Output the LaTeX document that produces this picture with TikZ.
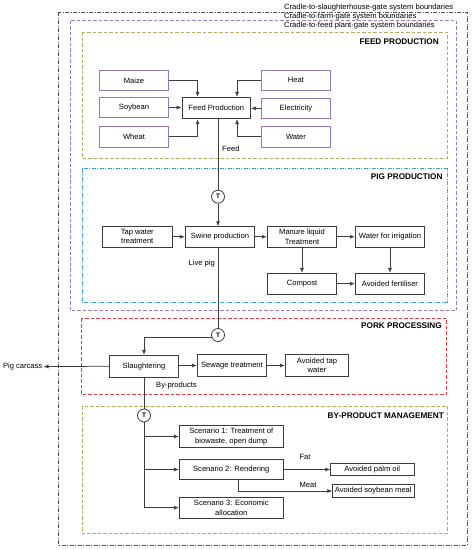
\documentclass[tikz,border=0pt]{standalone}
\usepackage{fontspec}
\setmainfont{Liberation Sans}
\usetikzlibrary{arrows.meta,calc}
\definecolor{pbox}{RGB}{150,120,180}
\definecolor{pdash}{RGB}{160,120,205}
\definecolor{odash}{RGB}{185,170,100}
\definecolor{bdash}{RGB}{70,160,215}
\definecolor{rdash}{RGB}{225,60,75}
\definecolor{odark}{RGB}{80,80,80}
\definecolor{bline}{RGB}{60,60,60}
\tikzset{
  txt/.style={font=\fontsize{7.6}{9.2}\selectfont, inner sep=1pt},
  boxbase/.style={txt, align=center, minimum width=69.4pt, minimum height=20.7pt, inner sep=1pt, line width=0.75pt},
  purplebox/.style={boxbase, draw=pbox},
  blackbox/.style={boxbase, draw=bline},
  tnode/.style={circle, draw=bline, line width=0.8pt, minimum size=13pt, inner sep=0pt, font=\bfseries\fontsize{6.5}{7}\selectfont},
  conn/.style={draw=bline, line width=0.75pt},
  arr/.style={conn, -{Latex[length=5pt,width=4pt]}},
  title/.style={font=\bfseries\fontsize{8.2}{9}\selectfont, inner sep=0pt, anchor=east},
  blabel/.style={font=\fontsize{7.6}{8}\selectfont, inner sep=0pt, anchor=west},
  bnd/.style={line width=0.7pt, dash pattern=on 3.5pt off 2pt},
}
\begin{document}
\begin{tikzpicture}[x=1pt,y=-1pt]
\useasboundingbox (0,0) rectangle (472,550);
% boundaries
\draw[line width=0.6pt, draw=odark, dash pattern=on 4pt off 1.5pt on 1pt off 1.5pt] (58.7,12) rectangle (467,545);
\draw[bnd, draw=pdash] (70,20.7) rectangle (456,310.7);
\draw[bnd, draw=odash] (82,32) rectangle (447,158);
\draw[line width=0.7pt, draw=bdash, dash pattern=on 4pt off 1.5pt on 1pt off 1.5pt] (82,168.7) rectangle (447.3,302.3);
\draw[bnd, draw=rdash] (81.3,318.7) rectangle (446.7,394.3);
\draw[bnd, draw=odash] (82,406) rectangle (447.3,533.3);
\node[blabel] (l1) at (284,7.3) {Cradle-to-slaughterhouse-gate system boundaries};
\node[blabel] (l2) at (284,16.3) {Cradle-to-farm-gate system boundaries};
\node[blabel] (l3) at (284,25.7) {Cradle-to-feed plant-gate system boundaries};
\node[title] (t1) at (439,41.3) {FEED PRODUCTION};
\node[title] (t2) at (442.7,176.3) {PIG PRODUCTION};
\node[title] (t3) at (442,326) {PORK PROCESSING};
\node[title] (t4) at (444,415.3) {BY-PRODUCT MANAGEMENT};
% feed production
\node[purplebox] (maize) at (134,80.3) {Maize};
\node[purplebox] (soy) at (134,107.5) {Soybean};
\node[purplebox] (wheat) at (134,136.7) {Wheat};
\node[purplebox] (heat) at (296,80.3) {Heat};
\node[purplebox] (elec) at (296,108.3) {Electricity};
\node[purplebox] (water) at (296,136.6) {Water};
\node[blackbox, minimum width=68.7pt, minimum height=21.4pt] (fp) at (216.3,108) {Feed Production};
\draw[arr] (maize.east) -| ([xshift=16pt]fp.north west);
\draw[arr] (heat.west) -| ([xshift=-14pt]fp.north east);
\draw[arr] (soy.east) -- (soy.east -| fp.west);
\draw[arr] (elec.west) -- (elec.west -| fp.east);
\draw[arr] (wheat.east) -| ([xshift=16pt]fp.south west);
\draw[arr] (water.west) -| ([xshift=-14pt]fp.south east);
% pig production
\node[tnode] (T1) at (218,196.7) {T};
\node[txt, anchor=west] (feedl) at (221,149) {Feed};
\node[blackbox, minimum height=20.3pt] (tap) at (137.3,236.8) {Tap water\\treatment};
\node[blackbox, minimum height=20.3pt] (swine) at (220,236.8) {Swine production};
\node[blackbox, minimum height=20.3pt] (manure) at (302,236.8) {Manure liquid\\Treatment};
\node[blackbox, minimum height=20.3pt] (wirr) at (390,236.8) {Water for irrigation};
\node[blackbox, minimum height=20.7pt] (compost) at (302,283.7) {Compost};
\node[blackbox, minimum height=20.7pt] (afert) at (390,283.7) {Avoided fertiliser};
\draw[conn] (fp.south -| T1) -- (T1.north);
\draw[arr] (T1.south) -- (T1 |- swine.north);
\draw[arr] (tap) -- (swine);
\draw[arr] (swine) -- (manure);
\draw[arr] (manure) -- (wirr);
\draw[arr] (manure) -- (compost);
\draw[arr] (wirr) -- (afert);
\draw[arr] (compost) -- (afert);
\node[txt, anchor=east] (livel) at (216,264) {Live pig};
% pork processing
\node[tnode] (T2) at (218,335) {T};
\node[blackbox, minimum height=22pt] (slaughter) at (144,366.3) {Slaughtering};
\node[blackbox, minimum height=22pt] (sewage) at (232,365.5) {Sewage treatment};
\node[blackbox, minimum width=63.4pt, minimum height=22pt] (avtap) at (317,365.5) {Avoided tap\\water};
\node[txt, anchor=east] (carcass) at (43.5,366.5) {Pig carcass};
\draw[conn] (swine.south -| T2) -- (T2.north);
\draw[arr] (T2.200) -| (slaughter.north);
\draw[arr] (slaughter.west) -- (carcass.east);
\draw[arr] (slaughter.east |- sewage) -- (sewage.west);
\draw[arr] (sewage) -- (avtap);
\node[txt, anchor=west] (byl) at (155,386) {By-products};
% by-product management
\node[tnode] (T3) at (144,415.5) {T};
\node[blackbox, minimum width=104pt, minimum height=21.4pt] (s1) at (231.3,436.5) {Scenario 1: Treatment of\\biowaste, open dump};
\node[blackbox, minimum width=104pt, minimum height=20pt] (s2) at (231.3,469.5) {Scenario 2: Rendering};
\node[blackbox, minimum width=104pt, minimum height=20.7pt] (s3) at (231.3,507.7) {Scenario 3: Economic\\allocation};
\node[blackbox, minimum width=83.3pt, minimum height=12pt] (palm) at (372.3,469.5) {Avoided palm oil};
\node[blackbox, minimum width=81.3pt, minimum height=12.6pt] (smeal) at (373.3,491) {Avoided soybean meal};
\draw[conn] (slaughter.south -| T3) -- (T3.north);
\draw[conn] (T3.south) -- (T3 |- s3.west);
\draw[arr] (T3 |- s1.west) -- (s1.west);
\draw[arr] (T3 |- s2.west) -- (s2.west);
\draw[arr] (T3 |- s3.west) -- (s3.west);
\draw[arr] (s2.east) -- (palm.west);
\coordinate (mstart) at ([xshift=6.7pt]s2.south);
\draw[arr] (mstart) |- (smeal.west);
\node[txt] (fatl) at (305,457.3) {Fat};
\node[txt] (meatl) at (308,485) {Meat};
\end{tikzpicture}
\end{document}
